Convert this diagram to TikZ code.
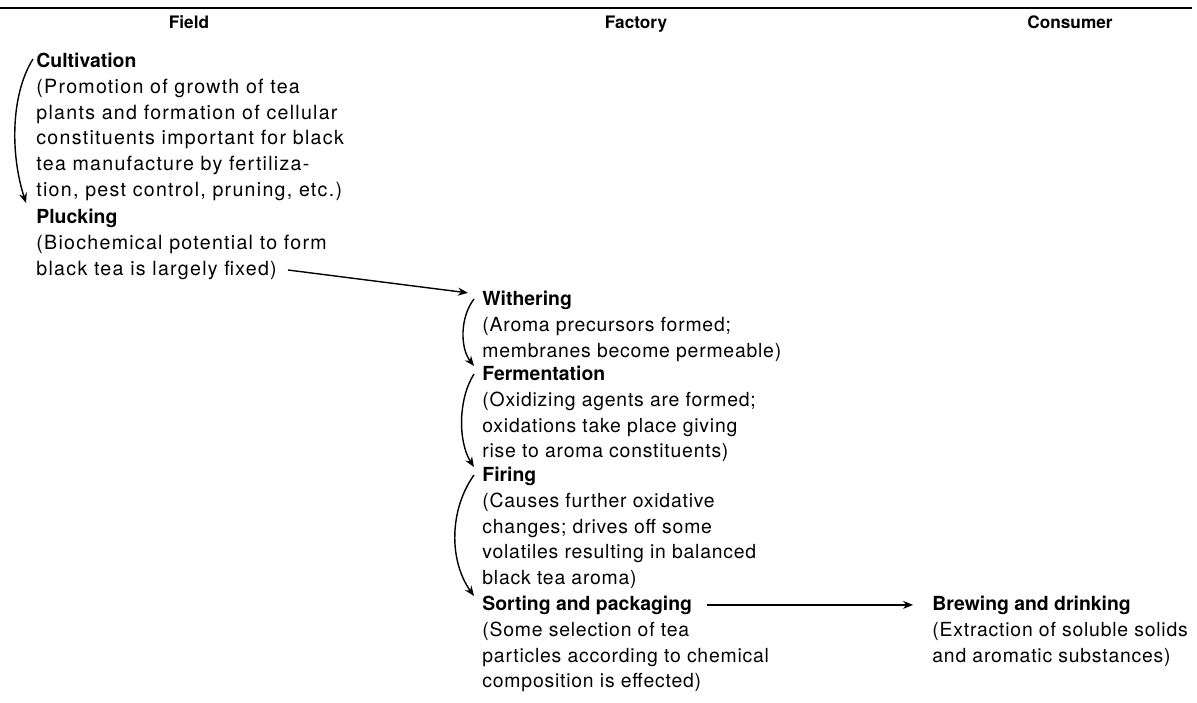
\documentclass[tikz,border=0pt]{standalone}
\usepackage{fontspec}
\setmainfont{TeX Gyre Heros}[LetterSpace=4, BoldFeatures={LetterSpace=0}]
\usetikzlibrary{positioning,arrows.meta}

\begin{document}
\begin{tikzpicture}[x=0.5pt, y=-0.5pt,
    colhead/.style={font=\fontsize{8.6}{11}\selectfont\bfseries, inner sep=0, anchor=base},
    stagetitle/.style={font=\fontsize{9.7}{12.9}\selectfont\bfseries, inner sep=0, anchor=base west},
    stagetext/.style={font=\fontsize{9.7}{12.9}\selectfont, inner sep=0, align=left},
    fieldtext/.style={stagetext, font=\fontsize{9.8}{12.9}\selectfont\addfontfeature{LetterSpace=6.5}},
    flow/.style={-{Stealth[length=5pt,width=4pt]}, line width=0.7pt}
]
\useasboundingbox (0,0) rectangle (1197,702);
\draw[line width=1pt] (0,8) -- (1192,8);

% column heads
\node[colhead] (field) at (189,28) {Field};
\node[colhead] (factory) at (636,28) {Factory};
\node[colhead] (consumer) at (1070,28) {Consumer};

% field
\node[stagetitle] (cult) at (36,67) {Cultivation};
\node[fieldtext, below=3.87pt of cult.base west, anchor=north west] (cultText) {\strut(Promotion of growth of tea\\plants and formation of cellular\\constituents important for black\\tea manufacture by fertiliza-\\tion, pest control, pruning, etc.)};
\node[stagetitle] (pluck) at (36,223) {Plucking};
\node[fieldtext, below=3.87pt of pluck.base west, anchor=north west] (pluckText) {\strut(Biochemical potential to form\\black tea is largely fixed)};
\coordinate (fixedEnd) at ([shift={(252,47)}]pluck.base west);

% factory
\node[stagetitle] (wither) at (482,305) {Withering};
\node[stagetext, below=3.87pt of wither.base west, anchor=north west] (witherText) {\strut(Aroma precursors formed;\\membranes become permeable)};
\node[stagetitle] (ferm) at (482,380) {Fermentation};
\node[stagetext, below=3.87pt of ferm.base west, anchor=north west] (fermText) {\strut(Oxidizing agents are formed;\\oxidations take place giving\\rise to aroma constituents)};
\node[stagetitle] (firing) at (482,481) {Firing};
\node[stagetext, below=3.87pt of firing.base west, anchor=north west] (firingText) {\strut(Causes further oxidative\\changes; drives off some\\volatiles resulting in balanced\\black tea aroma)};
\node[stagetitle] (sort) at (482,610) {Sorting and packaging};
\node[stagetext, below=3.87pt of sort.base west, anchor=north west] (sortText) {\strut(Some selection of tea\\particles according to chemical\\composition is effected)};

% consumer
\node[stagetitle] (brew) at (932,610) {Brewing and drinking};
\node[stagetext, below=3.87pt of brew.base west, anchor=north west] (brewText) {\strut(Extraction of soluble solids\\and aromatic substances)};

% arrows
\draw[flow] ([shift={(-3,-8)}]cult.base west) .. controls +(-22,35) and +(-16,-50) .. ([shift={(-10,-20)}]pluck.base west);
\draw[flow] (fixedEnd) -- ([shift={(-14,-7)}]wither.west);
\draw[flow] ([shift={(-8,-6)}]wither.base west) .. controls +(-14,18) and +(-14,-18) .. ([shift={(-8,-14)}]ferm.base west);
\draw[flow] ([shift={(-8,-6)}]ferm.base west) .. controls +(-16,25) and +(-16,-25) .. ([shift={(-8,-14)}]firing.base west);
\draw[flow] ([shift={(-8,-6)}]firing.base west) .. controls +(-25,35) and +(-25,-35) .. ([shift={(-8,-14)}]sort.base west);
\draw[flow] ([shift={(15,0)}]sort.east) -- ([shift={(-19,0)}]brew.west);
\end{tikzpicture}
\end{document}
